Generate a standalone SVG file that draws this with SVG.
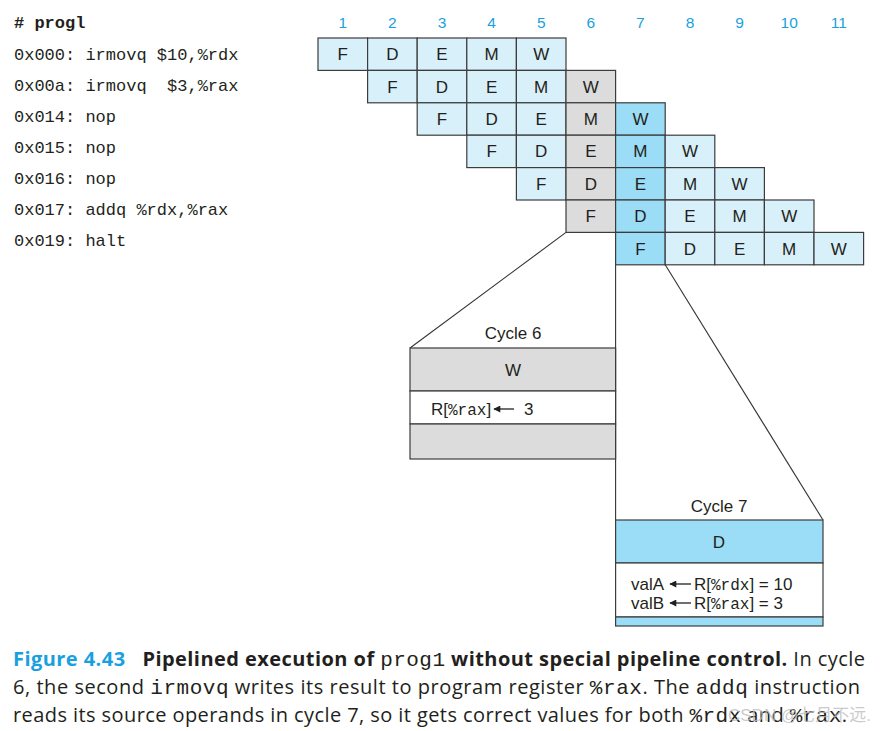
<svg xmlns="http://www.w3.org/2000/svg" width="892" height="731" viewBox="0 0 892 731">
<style>
.bg{fill:#ffffff}
.lb{fill:#d8f0fa;stroke:#3c3c3c;stroke-width:1.2}
.gr{fill:#dcdcdc;stroke:#3c3c3c;stroke-width:1.2}
.mb{fill:#9bdcf6;stroke:#3c3c3c;stroke-width:1.2}
.wh{fill:#ffffff;stroke:#3c3c3c;stroke-width:1.2}
.st{font-family:"Liberation Sans",Arial,sans-serif;font-size:17px;fill:#231f20;text-anchor:middle}
.hd{font-family:"Liberation Sans",Arial,sans-serif;font-size:15.5px;fill:#1a9fe0;text-anchor:middle}
.code{font-family:"Liberation Mono","DejaVu Sans Mono",monospace;font-size:17px;fill:#231f20;white-space:pre}
.lbl{font-family:"Liberation Sans",Arial,sans-serif;font-size:17px;fill:#231f20}
.mono{font-family:"Liberation Mono","DejaVu Sans Mono",monospace;font-size:16px}
.cap{font-family:"Open Sans","Liberation Sans",sans-serif;font-size:20px;fill:#231f20;white-space:pre}
.cmono{font-family:"Liberation Mono","DejaVu Sans Mono",monospace;font-size:21px}
.b{font-weight:bold}
.conn{stroke:#333333;stroke-width:1.1;fill:none}
.arr{stroke:#231f20;stroke-width:1.3;fill:none;marker-end:url(#ah)}
</style>
<defs>
<marker id="ah" viewBox="0 0 10 10" refX="9" refY="5" markerWidth="9" markerHeight="7" markerUnits="userSpaceOnUse" orient="auto">
<path d="M0,0 L10,5 L0,10 z" fill="#231f20"/>
</marker>
</defs>
<rect class="bg" x="0" y="0" width="892" height="731"/>

<g id="program">
<text class="code b" x="14" y="28"># progl</text>
<text class="code" x="14" y="60">0x000: irmovq $10,%rdx</text>
<text class="code" x="14" y="91">0x00a: irmovq  $3,%rax</text>
<text class="code" x="14" y="122">0x014: nop</text>
<text class="code" x="14" y="153">0x015: nop</text>
<text class="code" x="14" y="184">0x016: nop</text>
<text class="code" x="14" y="215">0x017: addq %rdx,%rax</text>
<text class="code" x="14" y="246">0x019: halt</text>
</g>

<g id="cycle-numbers">
<text class="hd" x="342.8" y="28">1</text>
<text class="hd" x="392.4" y="28">2</text>
<text class="hd" x="442" y="28">3</text>
<text class="hd" x="491.6" y="28">4</text>
<text class="hd" x="541.2" y="28">5</text>
<text class="hd" x="590.8" y="28">6</text>
<text class="hd" x="640.4" y="28">7</text>
<text class="hd" x="690" y="28">8</text>
<text class="hd" x="739.6" y="28">9</text>
<text class="hd" x="789.2" y="28">10</text>
<text class="hd" x="838.8" y="28">11</text>
</g>

<g id="connectors">
<line class="conn" x1="566" y1="232.4" x2="410" y2="348"/>
<line class="conn" x1="615.6" y1="264.8" x2="615.6" y2="520"/>
<line class="conn" x1="665.2" y1="264.8" x2="823" y2="520"/>
</g>

<g id="row1">
<rect class="lb" x="318" y="38" width="49.6" height="32.4"/><text class="st" x="342.8" y="60.2">F</text>
<rect class="lb" x="367.6" y="38" width="49.6" height="32.4"/><text class="st" x="392.4" y="60.2">D</text>
<rect class="lb" x="417.2" y="38" width="49.6" height="32.4"/><text class="st" x="442" y="60.2">E</text>
<rect class="lb" x="466.8" y="38" width="49.6" height="32.4"/><text class="st" x="491.6" y="60.2">M</text>
<rect class="lb" x="516.4" y="38" width="49.6" height="32.4"/><text class="st" x="541.2" y="60.2">W</text>
</g>
<g id="row2">
<rect class="lb" x="367.6" y="70.4" width="49.6" height="32.4"/><text class="st" x="392.4" y="92.6">F</text>
<rect class="lb" x="417.2" y="70.4" width="49.6" height="32.4"/><text class="st" x="442" y="92.6">D</text>
<rect class="lb" x="466.8" y="70.4" width="49.6" height="32.4"/><text class="st" x="491.6" y="92.6">E</text>
<rect class="lb" x="516.4" y="70.4" width="49.6" height="32.4"/><text class="st" x="541.2" y="92.6">M</text>
<rect class="gr" x="566" y="70.4" width="49.6" height="32.4"/><text class="st" x="590.8" y="92.6">W</text>
</g>
<g id="row3">
<rect class="lb" x="417.2" y="102.8" width="49.6" height="32.4"/><text class="st" x="442" y="125">F</text>
<rect class="lb" x="466.8" y="102.8" width="49.6" height="32.4"/><text class="st" x="491.6" y="125">D</text>
<rect class="lb" x="516.4" y="102.8" width="49.6" height="32.4"/><text class="st" x="541.2" y="125">E</text>
<rect class="gr" x="566" y="102.8" width="49.6" height="32.4"/><text class="st" x="590.8" y="125">M</text>
<rect class="mb" x="615.6" y="102.8" width="49.6" height="32.4"/><text class="st" x="640.4" y="125">W</text>
</g>
<g id="row4">
<rect class="lb" x="466.8" y="135.2" width="49.6" height="32.4"/><text class="st" x="491.6" y="157.4">F</text>
<rect class="lb" x="516.4" y="135.2" width="49.6" height="32.4"/><text class="st" x="541.2" y="157.4">D</text>
<rect class="gr" x="566" y="135.2" width="49.6" height="32.4"/><text class="st" x="590.8" y="157.4">E</text>
<rect class="mb" x="615.6" y="135.2" width="49.6" height="32.4"/><text class="st" x="640.4" y="157.4">M</text>
<rect class="lb" x="665.2" y="135.2" width="49.6" height="32.4"/><text class="st" x="690" y="157.4">W</text>
</g>
<g id="row5">
<rect class="lb" x="516.4" y="167.6" width="49.6" height="32.4"/><text class="st" x="541.2" y="189.8">F</text>
<rect class="gr" x="566" y="167.6" width="49.6" height="32.4"/><text class="st" x="590.8" y="189.8">D</text>
<rect class="mb" x="615.6" y="167.6" width="49.6" height="32.4"/><text class="st" x="640.4" y="189.8">E</text>
<rect class="lb" x="665.2" y="167.6" width="49.6" height="32.4"/><text class="st" x="690" y="189.8">M</text>
<rect class="lb" x="714.8" y="167.6" width="49.6" height="32.4"/><text class="st" x="739.6" y="189.8">W</text>
</g>
<g id="row6">
<rect class="gr" x="566" y="200" width="49.6" height="32.4"/><text class="st" x="590.8" y="222.2">F</text>
<rect class="mb" x="615.6" y="200" width="49.6" height="32.4"/><text class="st" x="640.4" y="222.2">D</text>
<rect class="lb" x="665.2" y="200" width="49.6" height="32.4"/><text class="st" x="690" y="222.2">E</text>
<rect class="lb" x="714.8" y="200" width="49.6" height="32.4"/><text class="st" x="739.6" y="222.2">M</text>
<rect class="lb" x="764.4" y="200" width="49.6" height="32.4"/><text class="st" x="789.2" y="222.2">W</text>
</g>
<g id="row7">
<rect class="mb" x="615.6" y="232.4" width="49.6" height="32.4"/><text class="st" x="640.4" y="254.6">F</text>
<rect class="lb" x="665.2" y="232.4" width="49.6" height="32.4"/><text class="st" x="690" y="254.6">D</text>
<rect class="lb" x="714.8" y="232.4" width="49.6" height="32.4"/><text class="st" x="739.6" y="254.6">E</text>
<rect class="lb" x="764.4" y="232.4" width="49.6" height="32.4"/><text class="st" x="789.2" y="254.6">M</text>
<rect class="lb" x="814" y="232.4" width="49.6" height="32.4"/><text class="st" x="838.8" y="254.6">W</text>
</g>

<g id="cycle6">
<text class="st" x="513" y="339">Cycle 6</text>
<rect class="gr" x="410" y="348" width="205.6" height="43"/>
<text class="st" x="513" y="376">W</text>
<rect class="wh" x="410" y="391" width="205.6" height="33"/>
<text class="lbl" x="431" y="415">R[<tspan class="mono">%rax</tspan>]</text>
<line class="arr" x1="514" y1="409" x2="494" y2="409"/>
<text class="lbl" x="524" y="415">3</text>
<rect class="gr" x="410" y="424" width="205.6" height="35"/>
</g>

<g id="cycle7">
<text class="st" x="719" y="512">Cycle 7</text>
<rect class="mb" x="615.6" y="520" width="207.4" height="43"/>
<text class="st" x="719" y="548">D</text>
<rect class="wh" x="615.6" y="563" width="207.4" height="54"/>
<text class="lbl" x="631" y="590">valA</text>
<line class="arr" x1="691" y1="584" x2="670" y2="584"/>
<text class="lbl" x="694" y="590">R[<tspan class="mono">%rdx</tspan>] = 10</text>
<text class="lbl" x="631" y="609">valB</text>
<line class="arr" x1="691" y1="603" x2="670" y2="603"/>
<text class="lbl" x="694" y="609">R[<tspan class="mono">%rax</tspan>] = 3</text>
<rect class="mb" x="615.6" y="617" width="207.4" height="9"/>
</g>

<g id="caption">
<text class="cap" x="13" y="666" textLength="852" lengthAdjust="spacing"><tspan class="b" fill="#1a9fe0">Figure 4.43</tspan>   <tspan class="b">Pipelined execution of </tspan><tspan class="cmono">prog1</tspan><tspan class="b"> without special pipeline control.</tspan> In cycle</text>
<text class="cap" x="13" y="694" textLength="847" lengthAdjust="spacing">6, the second <tspan class="cmono">irmovq</tspan> writes its result to program register <tspan class="cmono">%rax</tspan>. The <tspan class="cmono">addq</tspan> instruction</text>
<text class="cap" x="13" y="722" textLength="834" lengthAdjust="spacing">reads its source operands in cycle 7, so it gets correct values for both <tspan class="cmono">%rdx</tspan> and <tspan class="cmono">%rax</tspan>.</text>
<text x="728" y="721" font-family="'Liberation Sans','Noto Sans CJK SC',sans-serif" font-size="17" fill="#bdbdbd" fill-opacity="0.8">CSDN @七月不远.</text>
</g>
</svg>
